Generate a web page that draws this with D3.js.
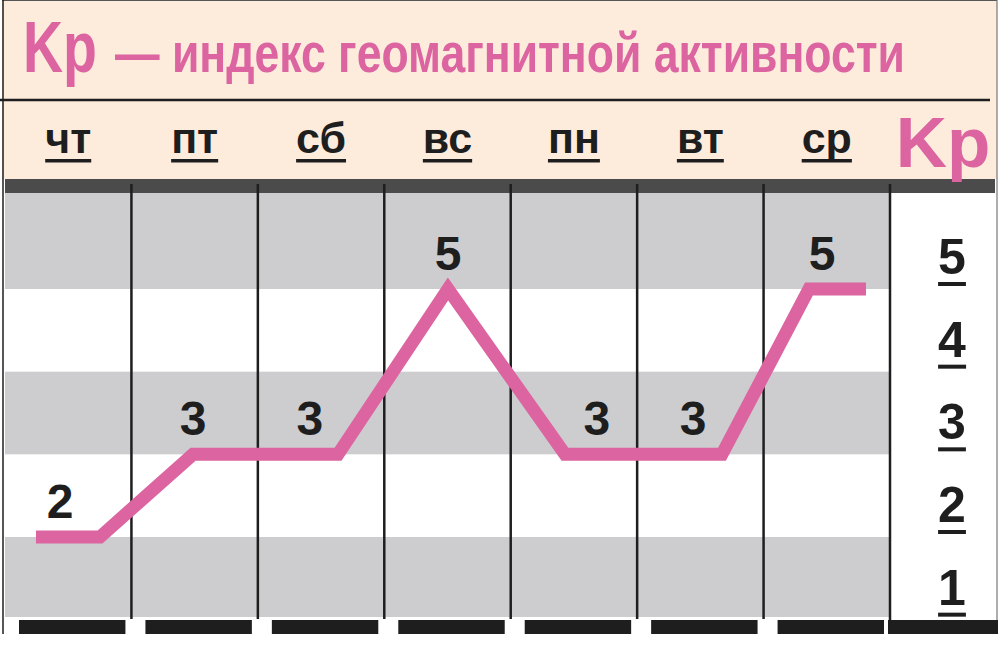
<!DOCTYPE html>
<html>
<head>
<meta charset="utf-8">
<script src="https://cdn.jsdelivr.net/npm/d3@7"></script>
<style>
  body { margin: 0; background: #fff; }
  svg { display: block; font-family: "Liberation Sans", Arial, sans-serif; }
</style>
</head>
<body>
<svg id="chart" width="1000" height="663"></svg>
<script>
// days of the week, Kp value per day
const days = ["чт", "пт", "сб", "вс", "пн", "вт", "ср"];
const kpByDay = [2, 3, 3, 5, 3, 3, 5];

// pink line knots: position in day units (0 = start of чт) and Kp
const lineDayPos = [0.245, 0.751, 1.487, 2.634, 3.504, 4.429, 5.671, 6.359, 6.81];
const lineKp = [2, 2, 3, 3, 5, 3, 3, 5, 5];

// where each day's value label sits, in day units
const labelDayPos = [0.435, 1.487, 2.412, 3.504, 4.682, 5.442, 6.462];

// right-hand scale
const kpTicks = [1, 2, 3, 4, 5];

const pink = "#dc64a0";
const beige = "#fdecdc";
const grey = "#cdcdcf";
const ink = "#1e1e1e";

const svg = d3.select("#chart");

const plot = { left: 5, right: 890, top: 193, bottom: 617 };

const xBand = d3.scaleBand().domain(days).range([plot.left, plot.right]);
const xDay = d3.scaleLinear().domain([0, days.length]).range([plot.left, plot.right]);
const y = d3.scaleLinear().domain([2, 5]).range([537, 289]);

// header bands
svg.append("rect").attr("x", 2).attr("y", 0).attr("width", 995).attr("height", 179).attr("fill", beige);
svg.append("line").attr("x1", 0).attr("x2", 990).attr("y1", 100).attr("y2", 100)
  .attr("stroke", ink).attr("stroke-width", 2.5);
svg.append("line").attr("x1", 2).attr("x2", 997).attr("y1", 0.5).attr("y2", 0.5)
  .attr("stroke", "#555").attr("stroke-width", 1);

// title, squeezed horizontally to the condensed width of the original
function condensed(x, yPos, size, width, str) {
  const g = svg.append("g");
  const t = g.append("text")
    .attr("x", 0).attr("y", 0)
    .style("font-size", size + "px").style("font-weight", "bold").attr("fill", pink)
    .text(str);
  const k = width / t.node().getComputedTextLength();
  g.attr("transform", `translate(${x},${yPos}) scale(${k},1)`);
}
condensed(23, 72, 72, 74, "Kp");
condensed(115, 72, 56, 790, "— индекс геомагнитной активности");

// plot background bands: grey for [1,2], [3,4], [5,top]
const bands = svg.append("g");
bands.append("rect").attr("x", plot.left).attr("y", plot.top)
  .attr("width", plot.right - plot.left).attr("height", plot.bottom - plot.top).attr("fill", "#fff");
bands.selectAll("rect.band")
  .data(kpTicks.filter((k) => k % 2 === 1))
  .join("rect")
  .attr("class", "band")
  .attr("x", plot.left)
  .attr("width", plot.right - plot.left)
  .attr("y", (k) => (k === d3.max(kpTicks) ? plot.top : y(k + 1)))
  .attr("height", (k) => Math.min(y(k), plot.bottom) - (k === d3.max(kpTicks) ? plot.top : y(k + 1)))
  .attr("fill", grey);

// right panel
svg.append("rect").attr("x", plot.right).attr("y", plot.top)
  .attr("width", 107).attr("height", 427).attr("fill", "#fff");
svg.append("line").attr("x1", 997).attr("x2", 997).attr("y1", 0).attr("y2", 634)
  .attr("stroke", "#777").attr("stroke-width", 1.2);

// dark strip under the header
svg.append("rect").attr("x", plot.left).attr("y", 179).attr("width", 990).attr("height", 14)
  .attr("fill", "#4b4b4b");

// column separators
svg.append("g").selectAll("line")
  .data(days.slice(1).concat(["end"]))
  .join("line")
  .attr("x1", (d) => (d === "end" ? plot.right : xBand(d)))
  .attr("x2", (d) => (d === "end" ? plot.right : xBand(d)))
  .attr("y1", 184)
  .attr("y2", (d) => (d === "end" ? 622 : 619))
  .attr("stroke", ink)
  .attr("stroke-width", 2.5);

// left frame
svg.append("line").attr("x1", 3).attr("x2", 3).attr("y1", 0).attr("y2", 634)
  .attr("stroke", ink).attr("stroke-width", 1.5);

// bottom bars per column + right panel
svg.append("g").selectAll("rect")
  .data(days)
  .join("rect")
  .attr("x", (d) => xBand(d) + 14)
  .attr("width", xBand.bandwidth() - 20)
  .attr("y", 620)
  .attr("height", 14)
  .attr("fill", ink);
svg.append("rect").attr("x", 888).attr("y", 620).attr("width", 110).attr("height", 14).attr("fill", ink);

// helper: underline a text selection
function underline(sel, offset, thickness) {
  sel.each(function () {
    const b = this.getBBox();
    const base = +d3.select(this).attr("y");
    d3.select(this.parentNode).append("rect")
      .attr("x", b.x).attr("width", b.width)
      .attr("y", base + offset).attr("height", thickness)
      .attr("fill", ink);
  });
}

// day labels
const dayG = svg.append("g");
const dayText = dayG.selectAll("text")
  .data(days)
  .join("text")
  .attr("x", (d) => xBand(d) + xBand.bandwidth() / 2)
  .attr("y", 153)
  .attr("text-anchor", "middle")
  .style("font-size", "43px")
  .style("font-weight", "bold")
  .attr("fill", ink)
  .text((d) => d);
underline(dayText, 6, 3.5);

// right header "Kp"
svg.append("text").attr("x", 943).attr("y", 167).attr("text-anchor", "middle")
  .style("font-size", "71px").style("font-weight", "bold").attr("fill", pink)
  .text("Kp");

// right axis labels
const tickG = svg.append("g");
const tickText = tickG.selectAll("text")
  .data(kpTicks)
  .join("text")
  .attr("x", 952)
  .attr("y", (k) => y(k) - 15)
  .attr("text-anchor", "middle")
  .style("font-size", "50px")
  .style("font-weight", "bold")
  .attr("fill", ink)
  .text((k) => k);
underline(tickText, 8, 4);

// Kp line
const line = d3.line()
  .x((d) => xDay(d[0]))
  .y((d) => y(d[1]));
svg.append("path")
  .datum(d3.zip(lineDayPos, lineKp))
  .attr("d", line)
  .attr("fill", "none")
  .attr("stroke", pink)
  .attr("stroke-width", 13)
  .attr("stroke-linejoin", "miter")
  .attr("stroke-linecap", "butt");

// value labels
svg.append("g").selectAll("text")
  .data(kpByDay)
  .join("text")
  .attr("x", (d, i) => xDay(labelDayPos[i]))
  .attr("y", (d) => y(d) - 19)
  .attr("text-anchor", "middle")
  .style("font-size", "48px")
  .style("font-weight", "bold")
  .attr("fill", ink)
  .text((d) => d);
</script>
</body>
</html>
